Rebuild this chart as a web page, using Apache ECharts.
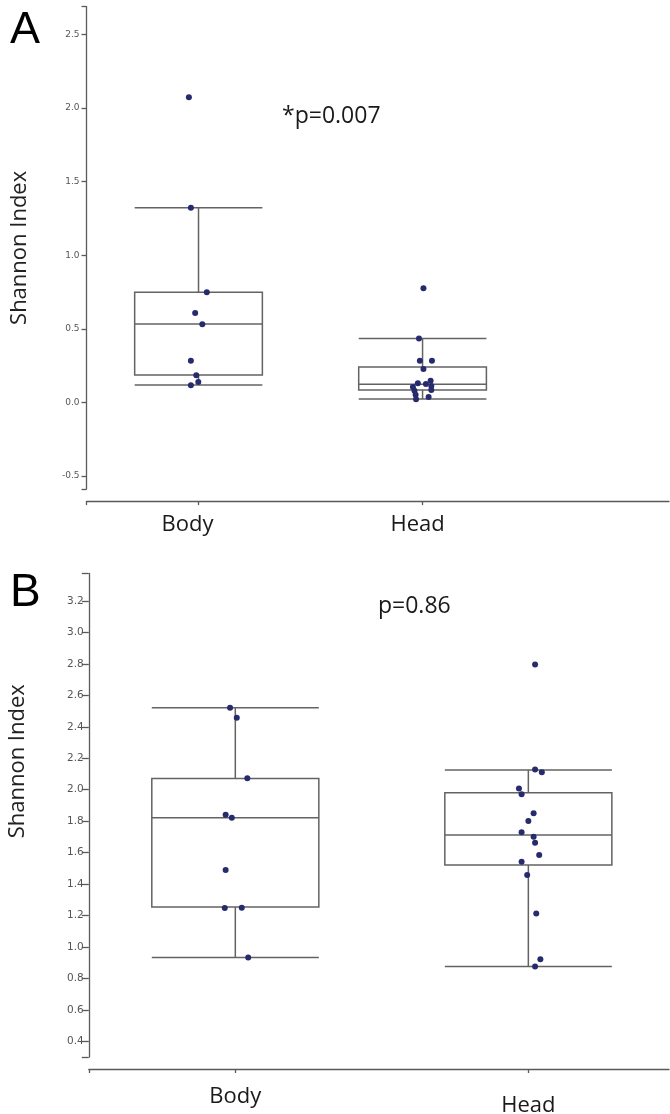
<!DOCTYPE html>
<html><head><meta charset="utf-8">
<script src="https://cdn.jsdelivr.net/npm/echarts@6/dist/echarts.min.js"></script>
<style>html,body{margin:0;padding:0;background:#fff}#c{width:670px;height:1114px}</style>
</head><body><div id="c"></div>
<script>
// ---------- data ----------
const categories = ['Body', 'Head'];

// Panel A
const ticksA = [-0.5, 0, 0.5, 1.0, 1.5, 2.0, 2.5];
// box rows: [lower whisker, Q1, median, Q3, upper whisker]
const boxBodyA = [0.118, 0.186, 0.533, 0.748, 1.322];
const boxHeadA = [0.022, 0.084, 0.122, 0.240, 0.433];
const bodyA = [2.074, 1.322, 0.748, 0.607, 0.531, 0.283, 0.184, 0.138, 0.116];
const bodyAJitter = [-0.043, -0.034, 0.037, -0.015, 0.017, -0.034, -0.010, -0.001, -0.034];
const headA = [0.776, 0.433, 0.283, 0.283, 0.227, 0.129, 0.104, 0.124, 0.147, 0.111, 0.079, 0.084, 0.052, 0.020, 0.036];
const headAJitter = [0.004, -0.016, -0.012, 0.042, 0.004, -0.021, -0.043, 0.015, 0.036, 0.039, -0.036, 0.039, -0.031, -0.029, 0.027];
const pTextA = '*p=0.007';

// Panel B
const ticksB = [0.4, 0.6, 0.8, 1.0, 1.2, 1.4, 1.6, 1.8, 2.0, 2.2, 2.4, 2.6, 2.8, 3.0, 3.2];
const boxBodyB = [0.933, 1.254, 1.822, 2.071, 2.521];
const boxHeadB = [0.875, 1.521, 1.712, 1.980, 2.126];
const bodyB = [2.521, 2.457, 2.073, 1.841, 1.822, 1.489, 1.247, 1.249, 0.933];
const bodyBJitter = [-0.018, 0.005, 0.041, -0.033, -0.012, -0.033, -0.036, 0.022, 0.044];
const headB = [2.797, 2.128, 2.111, 2.007, 1.971, 1.850, 1.801, 1.729, 1.701, 1.663, 1.585, 1.542, 1.457, 1.213, 0.922, 0.875];
const headBJitter = [0.023, 0.023, 0.046, -0.032, -0.023, 0.018, 0, -0.023, 0.018, 0.023, 0.037, -0.023, -0.004, 0.027, 0.041, 0.023];
const pTextB = 'p=0.86';

// ---------- chart ----------
const AXIS = '#5a5a5a';
const BOXC = '#636363';
const DOT = '#262b6e';
const BOX_W = 0.57;

function renderBox(params, api) {
  const x = api.value(0);
  const lo = api.coord([x, api.value(1)]);
  const q1 = api.coord([x, api.value(2)]);
  const md = api.coord([x, api.value(3)]);
  const q3 = api.coord([x, api.value(4)]);
  const hi = api.coord([x, api.value(5)]);
  const half = api.size([BOX_W, 0])[0] / 2;
  const cx = md[0];
  const st = { stroke: BOXC, lineWidth: 1.5, fill: null };
  const ln = (x1, y1, x2, y2) => ({ type: 'line', shape: { x1, y1, x2, y2 }, style: st });
  return {
    type: 'group',
    children: [
      { type: 'rect', shape: { x: cx - half, y: q3[1], width: 2 * half, height: q1[1] - q3[1] }, style: st },
      ln(cx - half, md[1], cx + half, md[1]),
      ln(cx, q3[1], cx, hi[1]),
      ln(cx, q1[1], cx, lo[1]),
      ln(cx - half, hi[1], cx + half, hi[1]),
      ln(cx - half, lo[1], cx + half, lo[1])
    ]
  };
}

function yAxisDef(gi, min, max, ticks, fs, tickLen, labMargin, gap, namePad) {
  return {
    type: 'value', gridIndex: gi, min, max,
    axisLine: { show: true, onZero: false, lineStyle: { color: AXIS, width: 1.3 } },
    axisTick: { show: true, length: tickLen, customValues: [min].concat(ticks, [max]), lineStyle: { color: AXIS, width: 1.3 } },
    axisLabel: { customValues: ticks, fontSize: fs, color: '#555', fontFamily: 'DejaVu Sans', margin: labMargin,
      formatter: v => v.toFixed(1) },
    splitLine: { show: false },
    name: 'Shannon Index', nameLocation: 'middle', nameGap: gap,
    nameTextStyle: { fontSize: 22, fontFamily: 'Open Sans', color: '#222', padding: namePad }
  };
}

function xAxisDef(gi, max, offset, labelMargin, rich) {
  return {
    type: 'value', gridIndex: gi, min: 0.5, max, offset,
    axisLine: { show: true, onZero: false, lineStyle: { color: AXIS, width: 1.3 } },
    axisTick: { show: true, length: 4, customValues: [0.5, 1, 2], lineStyle: { color: AXIS, width: 1.3 } },
    axisLabel: {
      customValues: [1, 2], margin: labelMargin,
      formatter: v => '{c' + Math.round(v) + '|' + categories[Math.round(v) - 1] + '}',
      rich: rich
    },
    splitLine: { show: false }
  };
}

const labStyle = { fontSize: 22, fontFamily: 'Open Sans', color: '#1a1a1a' };

const option = {
  backgroundColor: '#fff',
  animation: false,
  grid: [
    { left: 86.5, right: 1, top: 6.6, height: 482.5, outerBoundsMode: 'none' },
    { left: 88.8, right: 1, top: 573.5, height: 483.5, outerBoundsMode: 'none' }
  ],
  xAxis: [
    xAxisDef(0, 3.1, 12, 13, {
      c1: Object.assign({ padding: [0, 22, 0, 0] }, labStyle),
      c2: Object.assign({ padding: [0, 10, 0, 0] }, labStyle)
    }),
    xAxisDef(1, 2.48, 12, 17, {
      c1: Object.assign({ padding: [0, 0, 0, 0] }, labStyle),
      c2: Object.assign({ padding: [9, 0, 0, 0] }, labStyle)
    })
  ],
  yAxis: [
    yAxisDef(0, -0.59, 2.69, ticksA, 9, 5, 7, 56, [0, 0, 0, 0]),
    yAxisDef(1, 0.3, 3.375, ticksB, 10.5, 7, 5, 60, [0, 0, 0, 108])
  ],
  graphic: [
    { type: 'text', left: 10, top: 8, style: { text: 'A', fontSize: 45, fontFamily: 'Liberation Sans', fill: '#000' } },
    { type: 'text', left: 10, top: 570, style: { text: 'B', fontSize: 46, fontFamily: 'Liberation Sans', fill: '#000' } },
    { type: 'text', left: 282, top: 105, style: { text: pTextA, fontSize: 23, fontFamily: 'Open Sans', fill: '#1a1a1a' } },
    { type: 'text', left: 378, top: 595, style: { text: pTextB, fontSize: 23, fontFamily: 'Open Sans', fill: '#1a1a1a' } }
  ],
  series: [
    { type: 'custom', xAxisIndex: 0, yAxisIndex: 0, renderItem: renderBox, z: 2,
      encode: { x: 0, y: [1, 2, 3, 4, 5] },
      data: [[1].concat(boxBodyA), [2].concat(boxHeadA)] },
    { type: 'custom', xAxisIndex: 1, yAxisIndex: 1, renderItem: renderBox, z: 2,
      encode: { x: 0, y: [1, 2, 3, 4, 5] },
      data: [[1].concat(boxBodyB), [2].concat(boxHeadB)] },
    { type: 'scatter', xAxisIndex: 0, yAxisIndex: 0, symbolSize: 6, itemStyle: { color: DOT, opacity: 1 }, z: 5,
      data: bodyA.map((v, i) => [1 + bodyAJitter[i], v]).concat(headA.map((v, i) => [2 + headAJitter[i], v])) },
    { type: 'scatter', xAxisIndex: 1, yAxisIndex: 1, symbolSize: 6, itemStyle: { color: DOT, opacity: 1 }, z: 5,
      data: bodyB.map((v, i) => [1 + bodyBJitter[i], v]).concat(headB.map((v, i) => [2 + headBJitter[i], v])) }
  ]
};

const chart = echarts.init(document.getElementById('c'), null, { renderer: 'canvas' });
chart.setOption(option);
</script>
</body></html>
